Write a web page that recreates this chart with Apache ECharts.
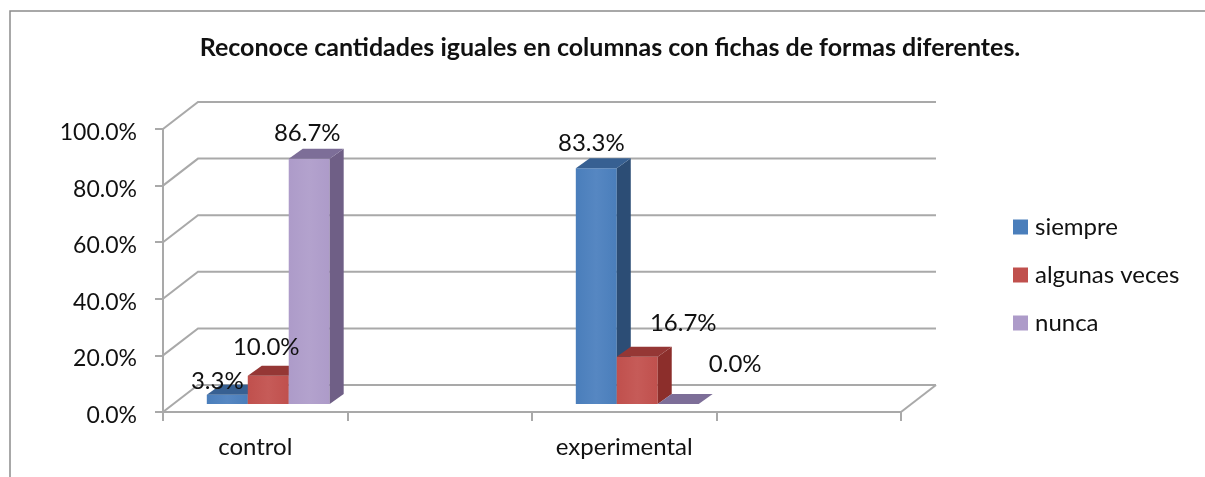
<!DOCTYPE html>
<html>
<head>
<meta charset="utf-8">
<style>
  html, body { margin: 0; padding: 0; background: #fff; }
  #chart { width: 1205px; height: 477px; }
</style>
<script src="https://cdn.jsdelivr.net/npm/echarts@6/dist/echarts.min.js"></script>
</head>
<body>
<div id="chart"></div>
<script>
const chartTitle = 'Reconoce cantidades iguales en columnas con fichas de formas diferentes.'
// the empty slots give the four tick spaces of the original axis
const categories = ['control', '', 'experimental', '']
const yTicks = [0, 20, 40, 60, 80, 100]
const siempre = [3.3, null, 83.3, null]
const algunasVeces = [10.0, null, 16.7, null]
const nunca = [86.7, null, 0.0, null]

const FONT = 'Lato, "Open Sans", sans-serif'
const WALL = '#a9a9a9'

// bars stand a little behind the front edge of the floor
const BAR_SHIFT = [13, -8]
const BAR_DEPTH = [14, -10]
// floor depth of the back wall
const WALL_DEPTH = [35, -27]
const BAR_WIDTH = 0.222

// hand-placed labels in the original, moved from the top centre of each bar
const labelNudge = {
  siempre: [[-10, -13], null, [-5, -25], null],
  algunas: [[-2, -28], null, [46, -33], null],
  nunca: [[-2, -25], null, [57, -40], null],
}

function wallItem(params, api) {
  const rect = params.coordSys
  const p = api.coord([0, api.value(1)])
  const x0 = rect.x
  const y = p[1]
  const children = [{
    type: 'polyline',
    shape: { points: [[x0, y], [x0 + WALL_DEPTH[0], y + WALL_DEPTH[1]], [x0 + rect.width + WALL_DEPTH[0], y + WALL_DEPTH[1]]] },
    style: { fill: null, stroke: WALL, lineWidth: 2 },
  }]
  if (api.value(1) === 0) {
    children.push({
      type: 'line',
      shape: { x1: x0 + rect.width, y1: y, x2: x0 + rect.width + WALL_DEPTH[0], y2: y + WALL_DEPTH[1] },
      style: { stroke: WALL, lineWidth: 2 },
    })
  }
  return { type: 'group', children }
}

function barRenderer(slot, colors, nudge) {
  return function (params, api) {
    const idx = api.value(0)
    const value = api.value(1)
    const top = api.coord([idx, value])
    const base = api.coord([idx, 0])
    const w = api.size([1, 0])[0] * BAR_WIDTH
    const x = top[0] + BAR_SHIFT[0] + (slot - 0.5) * w
    const yTop = top[1] + BAR_SHIFT[1]
    const yBase = base[1] + BAR_SHIFT[1]
    const dx = BAR_DEPTH[0]
    const dy = BAR_DEPTH[1]
    const off = nudge[idx]
    const children = []
    if (yBase - yTop > 0.5) {
      children.push({
        type: 'rect',
        shape: { x, y: yTop, width: w, height: yBase - yTop },
        style: {
          fill: {
            type: 'linear', x: 0, y: 0, x2: 1, y2: 0,
            colorStops: [
              { offset: 0, color: colors.front },
              { offset: 0.5, color: colors.mid },
              { offset: 1, color: colors.front },
            ],
          },
        },
      })
      children.push({
        type: 'polygon',
        shape: { points: [[x + w, yTop], [x + w + dx, yTop + dy], [x + w + dx, yBase + dy], [x + w, yBase]] },
        style: { fill: colors.side },
      })
    }
    children.push({
      type: 'polygon',
      shape: { points: [[x, yTop], [x + dx, yTop + dy], [x + w + dx, yTop + dy], [x + w, yTop]] },
      style: { fill: colors.top },
    })
    children.push({
      type: 'text',
      style: {
        text: value.toFixed(1) + '%',
        x: x + w / 2 + off[0],
        y: yTop + off[1],
        align: 'center',
        verticalAlign: 'middle',
        fontFamily: FONT,
        fontSize: 24,
        fill: '#111',
      },
      z2: 100,
    })
    return { type: 'group', children }
  }
}

function pairs(values) {
  return values.map((v, i) => [i, v]).filter(d => d[1] !== null)
}

function barSeries(name, values, slot, colors, nudge) {
  return {
    type: 'custom',
    name,
    coordinateSystem: 'cartesian2d',
    clip: false,
    silent: true,
    itemStyle: { color: colors.front },
    encode: { x: 0, y: 1 },
    data: pairs(values),
    renderItem: barRenderer(slot, colors, nudge),
  }
}

const chart = echarts.init(document.getElementById('chart'), null, { renderer: 'canvas' })
chart.setOption({
  animation: false,
  backgroundColor: '#fff',
  title: {
    text: chartTitle,
    left: 605,
    top: 30,
    textAlign: 'center',
    textStyle: { fontFamily: FONT, fontSize: 25, fontWeight: 'bold', color: '#111' },
  },
  legend: {
    orient: 'vertical',
    left: 1013,
    top: 215,
    padding: 0,
    itemWidth: 15,
    itemHeight: 15,
    itemGap: 24,
    icon: 'rect',
    data: ['siempre', 'algunas veces', 'nunca'],
    textStyle: { fontFamily: FONT, fontSize: 24, color: '#111', padding: [0, 0, 0, 2] },
  },
  grid: { left: 163, top: 129, width: 738, height: 283 },
  xAxis: {
    type: 'category',
    data: categories,
    boundaryGap: true,
    axisLine: { lineStyle: { color: WALL, width: 2 } },
    axisTick: { show: true, alignWithLabel: false, length: 9, lineStyle: { color: WALL, width: 2 } },
    axisLabel: { interval: 0, margin: 23, fontFamily: FONT, fontSize: 24, color: '#111' },
    splitLine: { show: false },
  },
  yAxis: {
    type: 'value',
    min: 0,
    max: 100,
    interval: 20,
    axisLine: { show: true, lineStyle: { color: WALL, width: 2 } },
    axisTick: { show: true, length: 8, lineStyle: { color: WALL, width: 2 } },
    axisLabel: {
      margin: 26,
      formatter: v => '{a|' + v.toFixed(1) + '%}',
      rich: { a: { padding: [7, 0, 0, 0], fontFamily: FONT, fontSize: 23, color: '#111' } },
    },
    splitLine: { show: false },
  },
  graphic: [{
    type: 'polyline',
    silent: true,
    shape: { points: [[10, 478], [10, 11], [1206, 11]] },
    style: { fill: null, stroke: '#8c8c8c', lineWidth: 1.5 },
  }],
  series: [
    {
      type: 'custom',
      name: 'paredes',
      coordinateSystem: 'cartesian2d',
      clip: false,
      silent: true,
      z: 1,
      encode: { x: 0, y: 1 },
      data: yTicks.map(v => [0, v]),
      renderItem: wallItem,
    },
    barSeries('siempre', siempre, -1, { front: '#4a7ebb', mid: '#5687c2', side: '#2c4d75', top: '#376092' }, labelNudge.siempre),
    barSeries('algunas veces', algunasVeces, 0, { front: '#c0504d', mid: '#c65b58', side: '#8c2e2b', top: '#953735' }, labelNudge.algunas),
    barSeries('nunca', nunca, 1, { front: '#ad9bc9', mid: '#b3a2cd', side: '#6f5f86', top: '#7d6e98' }, labelNudge.nunca),
  ],
})
</script>
</body>
</html>
